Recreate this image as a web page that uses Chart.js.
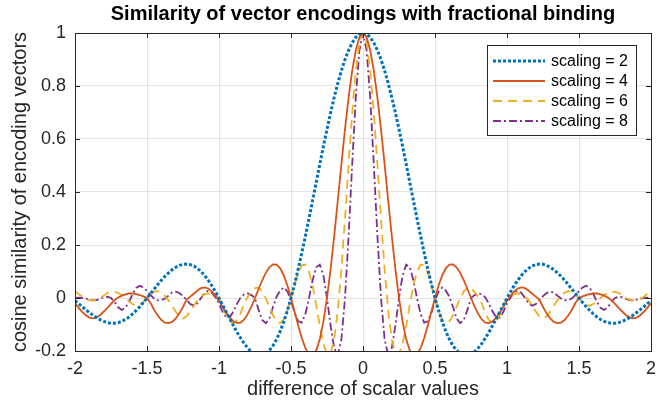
<!DOCTYPE html>
<html>
<head>
<meta charset="utf-8">
<script src="https://cdn.jsdelivr.net/npm/chart.js@4.4.0/dist/chart.umd.min.js"></script>
<style>
  html, body { margin: 0; padding: 0; background: #fff; }
</style>
</head>
<body>
<canvas id="canvas" width="668" height="407"></canvas>
<script>
// difference of scalar values (x)
const xs = [
  -2, -1.975, -1.95, -1.925, -1.9, -1.875, -1.85, -1.825, -1.8, -1.775, -1.75, -1.725, -1.7, -1.675, -1.65, -1.625, -1.6, -1.575, -1.55, -1.525,
  -1.5, -1.475, -1.45, -1.425, -1.4, -1.375, -1.35, -1.325, -1.3, -1.275, -1.25, -1.225, -1.2, -1.175, -1.15, -1.125, -1.1, -1.075, -1.05, -1.025,
  -1, -0.975, -0.95, -0.925, -0.9, -0.875, -0.85, -0.825, -0.8, -0.775, -0.75, -0.725, -0.7, -0.675, -0.65, -0.625, -0.6, -0.575, -0.55, -0.525,
  -0.5, -0.475, -0.45, -0.425, -0.4, -0.375, -0.35, -0.325, -0.3, -0.275, -0.25, -0.225, -0.2, -0.175, -0.15, -0.125, -0.1, -0.075, -0.05, -0.025,
  0,
  0.025, 0.05, 0.075, 0.1, 0.125, 0.15, 0.175, 0.2, 0.225, 0.25, 0.275, 0.3, 0.325, 0.35, 0.375, 0.4, 0.425, 0.45, 0.475, 0.5,
  0.525, 0.55, 0.575, 0.6, 0.625, 0.65, 0.675, 0.7, 0.725, 0.75, 0.775, 0.8, 0.825, 0.85, 0.875, 0.9, 0.925, 0.95, 0.975, 1,
  1.025, 1.05, 1.075, 1.1, 1.125, 1.15, 1.175, 1.2, 1.225, 1.25, 1.275, 1.3, 1.325, 1.35, 1.375, 1.4, 1.425, 1.45, 1.475, 1.5,
  1.525, 1.55, 1.575, 1.6, 1.625, 1.65, 1.675, 1.7, 1.725, 1.75, 1.775, 1.8, 1.825, 1.85, 1.875, 1.9, 1.925, 1.95, 1.975, 2
];

// cosine similarity
const scaling2 = [
  -0.010, -0.021, -0.033, -0.044, -0.055, -0.065, -0.074, -0.082, -0.088, -0.093, -0.095, -0.095, -0.093, -0.088, -0.081, -0.072, -0.060, -0.047, -0.033, -0.017,
  0, 0.017, 0.034, 0.051, 0.067, 0.082, 0.095, 0.107, 0.116, 0.123, 0.127, 0.128, 0.126, 0.121, 0.112, 0.100, 0.085, 0.067, 0.047, 0.024,
  0, -0.026, -0.052, -0.078, -0.104, -0.129, -0.151, -0.172, -0.189, -0.203, -0.212, -0.217, -0.216, -0.210, -0.198, -0.180, -0.156, -0.126, -0.089, -0.047,
  0, 0.052, 0.109, 0.170, 0.234, 0.300, 0.368, 0.436, 0.505, 0.572, 0.637, 0.699, 0.757, 0.810, 0.858, 0.900, 0.935, 0.963, 0.984, 0.996,
  1,
  0.996, 0.984, 0.963, 0.935, 0.900, 0.858, 0.810, 0.757, 0.699, 0.637, 0.572, 0.505, 0.436, 0.368, 0.300, 0.234, 0.170, 0.109, 0.052, 0,
  -0.047, -0.089, -0.126, -0.156, -0.180, -0.198, -0.210, -0.216, -0.217, -0.212, -0.203, -0.189, -0.172, -0.151, -0.129, -0.104, -0.078, -0.052, -0.026, 0,
  0.024, 0.047, 0.067, 0.085, 0.100, 0.112, 0.121, 0.126, 0.128, 0.127, 0.123, 0.116, 0.107, 0.095, 0.082, 0.067, 0.051, 0.034, 0.017, 0,
  -0.017, -0.033, -0.047, -0.060, -0.072, -0.081, -0.088, -0.093, -0.095, -0.095, -0.093, -0.088, -0.082, -0.074, -0.065, -0.055, -0.044, -0.033, -0.021, -0.010
];

const scaling4 = [
  -0.020, -0.037, -0.052, -0.065, -0.074, -0.077, -0.073, -0.064, -0.051, -0.037,
  -0.022, -0.008, 0.002, 0.009, 0.014, 0.017, 0.017, 0.015, 0.011, 0.006,
  0, -0.019, -0.045, -0.066, -0.083, -0.093, -0.095, -0.090, -0.077, -0.058,
  -0.034, -0.006, 0.005, 0.016, 0.028, 0.037, 0.040, 0.036, 0.025, 0.008,
  -0.010, -0.033, -0.055, -0.074, -0.088, -0.095, -0.093, -0.081, -0.060, -0.033,
  0, 0.034, 0.067, 0.095, 0.116, 0.127, 0.126, 0.112, 0.085, 0.047,
  0, -0.052, -0.104, -0.151, -0.189, -0.212, -0.216, -0.198, -0.156, -0.089,
  0, 0.109, 0.234, 0.368, 0.505, 0.637, 0.757, 0.858, 0.935, 0.984,
  1,
  0.984, 0.935, 0.858, 0.757, 0.637, 0.505, 0.368, 0.234, 0.109, 0,
  -0.089, -0.156, -0.198, -0.216, -0.212, -0.189, -0.151, -0.104, -0.052, 0,
  0.047, 0.085, 0.112, 0.126, 0.127, 0.116, 0.095, 0.067, 0.034, 0,
  -0.033, -0.060, -0.081, -0.093, -0.095, -0.088, -0.074, -0.055, -0.033, -0.010,
  0.008, 0.025, 0.036, 0.040, 0.037, 0.028, 0.016, 0.005, -0.006, -0.034,
  -0.058, -0.077, -0.090, -0.095, -0.093, -0.083, -0.066, -0.045, -0.019, 0,
  0.006, 0.011, 0.015, 0.017, 0.017, 0.014, 0.009, 0.002, -0.008, -0.022,
  -0.037, -0.051, -0.064, -0.073, -0.077, -0.074, -0.065, -0.052, -0.037, -0.020
];

const scaling6 = [
  0.026, 0.015, 0.005, -0.004, -0.009, -0.009, -0.006, 0, 0.009, 0.019,
  0.024, 0.023, 0.019, 0.011, 0, -0.012, -0.023, -0.029, -0.026, -0.015,
  0, 0.014, 0.024, 0.026, 0.020, 0.007, -0.009, -0.029, -0.052, -0.070,
  -0.077, -0.069, -0.051, -0.030, -0.008, 0.006, 0.014, 0.017, 0.015, 0.009,
  0, -0.032, -0.066, -0.088, -0.095, -0.084, -0.058, -0.020, 0.005, 0.022,
  0.037, 0.039, 0.025, -0.001, -0.033, -0.065, -0.088, -0.095, -0.081, -0.047,
  0, 0.051, 0.095, 0.123, 0.126, 0.100, 0.047, -0.026, -0.104, -0.172,
  -0.212, -0.210, -0.156, -0.047, 0.109, 0.300, 0.505, 0.699, 0.858, 0.963,
  1,
  0.963, 0.858, 0.699, 0.505, 0.300, 0.109, -0.047, -0.156, -0.210, -0.212,
  -0.172, -0.104, -0.026, 0.047, 0.100, 0.126, 0.123, 0.095, 0.051, 0,
  -0.047, -0.081, -0.095, -0.088, -0.065, -0.033, -0.001, 0.025, 0.039, 0.037,
  0.022, 0.005, -0.020, -0.058, -0.084, -0.095, -0.088, -0.066, -0.032, 0,
  0.009, 0.015, 0.017, 0.014, 0.006, -0.008, -0.030, -0.051, -0.069, -0.077,
  -0.070, -0.052, -0.029, -0.009, 0.007, 0.020, 0.026, 0.024, 0.014, 0,
  -0.015, -0.026, -0.029, -0.023, -0.012, 0, 0.011, 0.019, 0.023, 0.024,
  0.019, 0.009, 0, -0.006, -0.009, -0.009, -0.004, 0.005, 0.015, 0.026
];

const scaling8 = [
  0, 0.001, 0, -0.002, -0.006, -0.009, -0.008, -0.003, 0.003, 0.005,
  0, -0.015, -0.035, -0.045, -0.037, -0.015, 0.015, 0.038, 0.046, 0.040,
  0.026, 0.011, -0.002, -0.009, -0.008, -0.002, 0.009, 0.021, 0.024, 0.019,
  0.007, -0.008, -0.023, -0.029, -0.020, 0, 0.019, 0.027, 0.020, 0.002,
  -0.020, -0.052, -0.074, -0.073, -0.051, -0.022, 0.002, 0.014, 0.017, 0.011,
  0, -0.045, -0.083, -0.095, -0.077, -0.034, 0.005, 0.028, 0.040, 0.025,
  -0.010, -0.055, -0.088, -0.093, -0.060, 0, 0.067, 0.116, 0.126, 0.085,
  0, -0.104, -0.189, -0.216, -0.156, 0, 0.234, 0.505, 0.757, 0.935,
  1,
  0.935, 0.757, 0.505, 0.234, 0, -0.156, -0.216, -0.189, -0.104, 0,
  0.085, 0.126, 0.116, 0.067, 0, -0.060, -0.093, -0.088, -0.055, -0.010,
  0.025, 0.040, 0.028, 0.005, -0.034, -0.077, -0.095, -0.083, -0.045, 0,
  0.011, 0.017, 0.014, 0.002, -0.022, -0.051, -0.073, -0.074, -0.052, -0.020,
  0.002, 0.020, 0.027, 0.019, 0, -0.020, -0.029, -0.023, -0.008, 0.007,
  0.019, 0.024, 0.021, 0.009, -0.002, -0.008, -0.009, -0.002, 0.011, 0.026,
  0.040, 0.046, 0.038, 0.015, -0.015, -0.037, -0.045, -0.035, -0.015, 0,
  0.005, 0.003, -0.003, -0.008, -0.009, -0.006, -0.002, 0, 0.001, 0
];

const seriesLabels = ["scaling = 2", "scaling = 4", "scaling = 6", "scaling = 8"];
const xTicks = [-2, -1.5, -1, -0.5, 0, 0.5, 1, 1.5, 2];
const xTickLabels = ["-2", "-1.5", "-1", "-0.5", "0", "0.5", "1", "1.5", "2"];
const yTicks = [-0.2, 0, 0.2, 0.4, 0.6, 0.8, 1];
const yTickLabels = ["-0.2", "0", "0.2", "0.4", "0.6", "0.8", "1"];

const axisColor = "#262626";
Chart.defaults.font.family = "'Liberation Sans', Arial, sans-serif";

// MATLAB-style box with inward ticks, drawn over the lines
const boxPlugin = {
  id: "box",
  afterDatasetsDraw(chart) {
    const { ctx, chartArea: a, scales } = chart;
    ctx.save();
    ctx.strokeStyle = axisColor;
    ctx.lineWidth = 1;
    ctx.beginPath();
    for (const v of xTicks) {
      const px = Math.round(scales.x.getPixelForValue(v)) + 0.5;
      ctx.moveTo(px, a.bottom); ctx.lineTo(px, a.bottom - 5);
      ctx.moveTo(px, a.top); ctx.lineTo(px, a.top + 5);
    }
    for (const v of yTicks) {
      const py = Math.round(scales.y.getPixelForValue(v)) + 0.5;
      ctx.moveTo(a.left, py); ctx.lineTo(a.left + 5, py);
      ctx.moveTo(a.right, py); ctx.lineTo(a.right - 5, py);
    }
    ctx.stroke();
    ctx.strokeRect(Math.round(a.left) + 0.5, Math.round(a.top) + 0.5,
      Math.round(a.right - a.left), Math.round(a.bottom - a.top));
    ctx.restore();
  }
};

// legend box in the upper right of the axes
const legendPlugin = {
  id: "boxLegend",
  afterDraw(chart) {
    const { ctx } = chart;
    const x0 = 487, y0 = 45, w = 149, h = 90;
    ctx.save();
    ctx.fillStyle = "#fff";
    ctx.fillRect(x0, y0, w, h);
    ctx.strokeStyle = axisColor;
    ctx.lineWidth = 1;
    ctx.strokeRect(x0 + 0.5, y0 + 0.5, w, h);
    chart.data.datasets.forEach((ds, i) => {
      const y = y0 + 16 + i * 20;
      ctx.strokeStyle = ds.borderColor;
      ctx.lineWidth = ds.borderWidth;
      ctx.setLineDash(ds.borderDash || []);
      ctx.beginPath();
      ctx.moveTo(x0 + 6, y);
      ctx.lineTo(x0 + 58, y);
      ctx.stroke();
      ctx.setLineDash([]);
      ctx.fillStyle = "#000";
      ctx.font = "16px 'Liberation Sans', Arial, sans-serif";
      ctx.textBaseline = "middle";
      ctx.fillText(ds.label, x0 + 64, y + 1);
    });
    ctx.restore();
  }
};

new Chart(document.getElementById("canvas"), {
  type: "line",
  data: {
    labels: xs,
    datasets: [
      { label: seriesLabels[0], data: scaling2, borderColor: "#0072BD", borderWidth: 3, borderDash: [3, 2] },
      { label: seriesLabels[1], data: scaling4, borderColor: "#D95319", borderWidth: 1.8 },
      { label: seriesLabels[2], data: scaling6, borderColor: "#EDB120", borderWidth: 1.8, borderDash: [9, 6] },
      { label: seriesLabels[3], data: scaling8, borderColor: "#7E2F8E", borderWidth: 1.8, borderDash: [8, 3, 2, 3] }
    ]
  },
  options: {
    responsive: false,
    animation: false,
    devicePixelRatio: 1,
    layout: { padding: { left: 0, right: 17, top: 0, bottom: 0 } },
    elements: { point: { radius: 0 }, line: { tension: 0, borderCapStyle: "butt" } },
    plugins: {
      legend: { display: false },
      tooltip: { enabled: false },
      title: {
        display: true,
        fullSize: false,
        text: "Similarity of vector encodings with fractional binding",
        color: "#000",
        font: { size: 20, weight: "bold" },
        padding: { top: 2, bottom: 7 }
      }
    },
    scales: {
      x: {
        type: "linear",
        min: -2,
        max: 2,
        afterBuildTicks: s => { s.ticks = xTicks.map(v => ({ value: v })); },
        afterFit: s => { s.height = 56; },
        ticks: {
          callback: (v, i) => xTickLabels[i],
          color: axisColor,
          font: { size: 18 },
          padding: 7,
          maxRotation: 0,
          autoSkip: false
        },
        grid: { color: "#e3e3e3", drawTicks: false },
        border: { display: false },
        title: {
          display: true,
          text: "difference of scalar values",
          color: axisColor,
          font: { size: 20 },
          padding: { top: 0, bottom: 6 }
        }
      },
      y: {
        min: -0.2,
        max: 1,
        afterBuildTicks: s => { s.ticks = yTicks.map(v => ({ value: v })); },
        afterFit: s => { s.width = 75; },
        ticks: {
          callback: (v, i) => yTickLabels[i],
          color: axisColor,
          font: { size: 18 },
          padding: 9
        },
        grid: { color: "#e3e3e3", drawTicks: false },
        border: { display: false },
        title: {
          display: true,
          text: "cosine similarity of encoding vectors",
          color: axisColor,
          font: { size: 20 },
          padding: { top: 8, bottom: 0 }
        }
      }
    }
  },
  plugins: [boxPlugin, legendPlugin]
});
</script>
</body>
</html>
